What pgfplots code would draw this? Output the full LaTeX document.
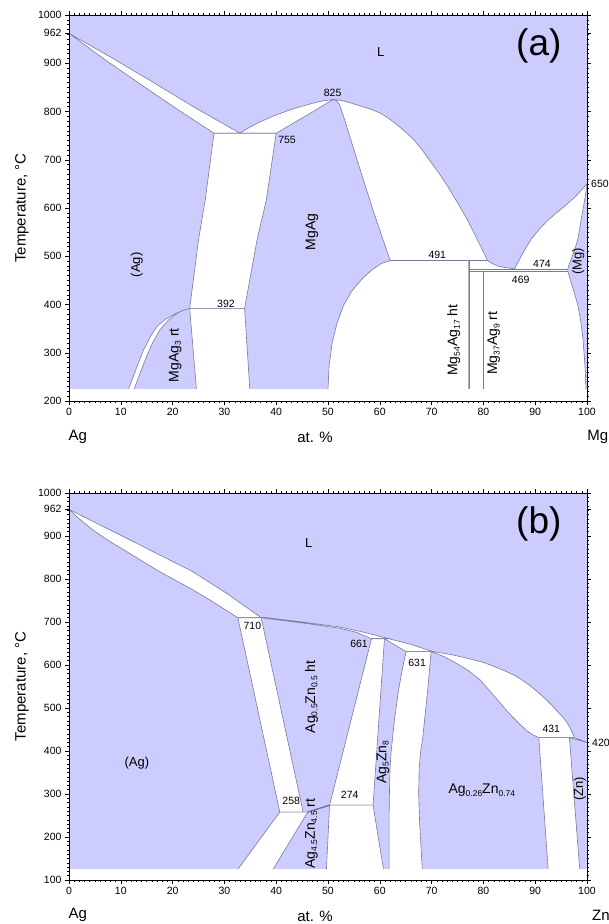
\documentclass[border=0pt]{standalone}
\usepackage{pgfplots}
\pgfplotsset{compat=1.18}
\usepackage{fontspec}
\setmainfont{Liberation Sans}
\definecolor{phase}{RGB}{204,204,255}
\definecolor{bd}{RGB}{120,120,155}
\newcommand\fs[1]{\fontsize{#1}{#1}\selectfont}
\newcommand\sub[1]{\raisebox{-2.4pt}{\fs{8.5}#1}}
\pgfplotsset{
  diag/.style={
    anchor=south west, scale only axis, width=518pt,
    xmin=0, xmax=100, clip=false, axis on top,
    axis line style={black, line width=0.7pt},
    tick align=outside,
    xtick distance=10, minor x tick num=9,
    ytick distance=100, minor y tick num=9,
    major tick length=4pt, minor tick length=2pt,
    every tick/.style={black, line width=0.5pt},
    tick label style={font=\fs{10.5}},
    /pgf/number format/assume math mode=true,
    /pgf/number format/set thousands separator={},
    extra y ticks={962},
    ylabel={Temperature, °C},
    every axis y label/.style={at={(axis description cs:-0.0907,0.5)}, rotate=90, anchor=center, font=\fs{15}},
    xlabel={at. \%},
    every axis x label/.style={at={(axis description cs:0.475,0)}, yshift=-36pt, anchor=center, font=\fs{15}},
  },
  twoph/.style={fill=white, draw=bd, line width=0.6pt},
  bdl/.style={draw=bd, line width=0.6pt},
}
\begin{document}
\begin{tikzpicture}[x=1pt, y=1pt]
\path[use as bounding box] (0,0) rectangle (609,-924);

% ---------------- (a) Ag--Mg ----------------
\begin{axis}[diag, at={(69pt,-401pt)}, height=386pt, ymin=200, ymax=1000]
\addplot[fill=phase, draw=none] coordinates {(0,225)(100,225)(100,1000)(0,1000)} -- cycle;
% L + (Ag)
\addplot[twoph] coordinates {(0,962)(8,913)(16,862)(24,810)(33,755)(28,755)(21,804)(14,855)(7,907)} -- cycle;
% L + MgAg, Ag side
\addplot[twoph] coordinates {(33,755)(34,762)(35,768)(37,779)(40,793)(43.4,806)(47,817)(49,822)(51,825)(47,799)(43.5,777)(40,755)} -- cycle;
% L + MgAg, Mg side
\addplot[twoph] coordinates {(51,825)(52.5,823)(54,819)(55.5,814)(57,809)(58.7,803)(60.2,796)(61.8,785)(63.4,772)(65,757)(66.6,741)(68.2,720)(69.8,696)(71.5,671)(73.1,645)(75,611)(76.9,576)(78.2,548)(79.5,520)(80.8,491)
  (62,491)(58.9,589)(55.6,700)(53,790)(52.2,815)(51.7,822)} -- cycle;
% (Ag) + MgAg
\addplot[twoph] coordinates {(28,755)(40,755)(38.1,617)(36.3,534)(33.9,392)(23.3,392)(25,534)(26.3,617)} -- cycle;
% MgAg3 + MgAg
\addplot[twoph] coordinates {(24.6,225)(23.3,392)(33.9,392)(34.9,225)};
% (Ag) + MgAg3
\addplot[twoph] coordinates {(11.5,225)(12.9,265)(14.4,306)(15.8,335)(17,355)(18.6,369)(20.2,379)(21.8,387)(23.3,392)
  (22,388)(20.8,381)(19.2,368)(17.6,348)(16.2,322)(15,293)(13.8,260)(12.6,225)};
% MgAg + Mg54Ag17
\addplot[twoph] coordinates {(50,225)(50.2,272)(50.8,320)(51.7,360)(53,398)(54.6,428)(56.5,452)(58.5,472)(60.3,485)(62,491)(77.2,491)(77.2,225)};
% Mg-rich side: L + Mg54Ag17, L + (Mg), compounds + (Mg)
\addplot[twoph] coordinates {(77.2,225)(77.2,491)(80.8,491)(81.7,485)(82.7,480)(84,477)(86,474)
  (86.8,490)(87.8,510)(89.2,535)(90.8,556)(92.4,574)(94,589)(95.6,603)(97.8,624)(100,650)
  (99.6,620)(99.2,596)(98.7,565)(98.2,534)(97.5,510)(96.9,493)(96.5,481)(96.3,474)
  (96.3,469)(96.8,450)(97.4,430)(98.2,400)(98.8,365)(99.2,330)(99.5,290)(99.7,255)(99.8,225)};
\addplot[bdl] coordinates {(62,491)(80.8,491)};
\addplot[bdl] coordinates {(77.2,474)(96.3,474)};
\addplot[bdl] coordinates {(77.2,469)(96.3,469)};
\addplot[bdl] coordinates {(77.2,491)(77.2,225)};
\addplot[bdl] coordinates {(80,469)(80,225)};

\node[font=\fs{13}] at (axis cs:60.2,923) {L};
\node[font=\fs{37}] at (axis cs:90.7,935.7) {(a)};
\node[font=\fs{13}, rotate=90] at (axis cs:13.1,482) {(Ag)};
\node[font=\fs{14}, rotate=90] at (axis cs:46.9,550) {MgAg};
\node[font=\fs{14}, rotate=90] at (axis cs:20.5,295) {MgAg\sub{3} rt};
\node[font=\fs{14}, rotate=90] at (axis cs:74.3,326) {Mg\sub{54}Ag\sub{17} ht};
\node[font=\fs{14}, rotate=90] at (axis cs:82.0,320) {Mg\sub{37}Ag\sub{9} rt};
\node[font=\fs{13}, rotate=90] at (axis cs:98.3,489) {(Mg)};
\node[font=\fs{10.5}] at (axis cs:50.9,838) {825};
\node[font=\fs{10.5}] at (axis cs:42.1,741) {755};
\node[font=\fs{10.5}] at (axis cs:30.3,402) {392};
\node[font=\fs{10.5}] at (axis cs:71.1,503) {491};
\node[font=\fs{10.5}] at (axis cs:91.3,484) {474};
\node[font=\fs{10.5}] at (axis cs:87.2,451) {469};
\node[font=\fs{10.5}, anchor=west, inner sep=0pt] at (axis cs:100,650) [xshift=4pt] {650};
\node[font=\fs{15}] at (axis cs:1.7,200) [yshift=-36pt] {Ag};
\node[font=\fs{15}] at (axis cs:102.1,200) [yshift=-36pt] {Mg};
\end{axis}

% ---------------- (b) Ag--Zn ----------------
\begin{axis}[diag, at={(69pt,-880pt)}, height=387pt, ymin=100, ymax=1000]
\addplot[fill=phase, draw=none] coordinates {(0,125)(100,125)(100,1000)(0,1000)} -- cycle;
% L + (Ag)
\addplot[twoph] coordinates {(0,962)(4.6,934)(11.1,895)(17.5,856)(23.9,817)(30.4,767)(37.1,710)
  (32.6,710)(27.1,752)(23.9,775)(17.5,817)(11.1,864)(7.8,888)(4.6,914)(2,940)} -- cycle;
% L + beta
\addplot[twoph] coordinates {(37.1,710)(37.6,711)(45,700)(52,689)(57,676)(61.8,661)(58.4,661)(55.5,676)(52,686)(45,698)} -- cycle;
% L + gamma
\addplot[twoph] coordinates {(60.9,661)(61.8,661)(66,648)(70.3,631)(65.1,631)(63,646)} -- cycle;
% beta + gamma
\addplot[twoph] coordinates {(58.4,661)(60.9,661)(58.7,274)(50.3,274)} -- cycle;
% (Ag) + beta
\addplot[twoph] coordinates {(32.6,710)(37.1,710)(45.2,258)(40.7,258)} -- cycle;
% (Ag) + zeta
\addplot[twoph] coordinates {(32.6,125)(40.7,258)(46.1,258)(39.4,125)};
% zeta + gamma
\addplot[twoph] coordinates {(49.7,125)(50.3,274)(58.7,274)(60.7,125)};
% gamma + epsilon
\addplot[twoph] coordinates {(61.8,125)(61.8,250)(61.9,330)(62,365)(62.2,400)(62.5,435)(62.8,470)(63.2,505)(63.6,540)(64.2,580)(64.6,605)(65.1,631)
  (69.9,631)(69.6,590)(69.3,549)(68.8,490)(68.3,432)(67.9,400)(67.6,360)(67.5,300)(67.7,230)(68.2,125)};
% L + epsilon
\addplot[twoph] coordinates {(69.9,631)(70.3,631)(72.5,627)(75,621)(77.5,614)(80,606)(82,597)(84,587)(86,576)(87.5,565)(89,552)(90.5,537)(92,521)(93,509)(94,496)(95,483)(96,469)(96.8,452)(97.6,431)
  (90.7,431)(89.5,438)(88.3,448)(86.8,465)(85,487)(83.5,508)(82,529)(80.5,550)(79.3,566)(77,588)(74.8,604)(72.3,620)} -- cycle;
% L + (Zn)
\addplot[twoph] coordinates {(96.6,431)(97.6,431)(100,420)} -- cycle;
% epsilon + (Zn)
\addplot[twoph] coordinates {(92.5,125)(90.7,431)(96.6,431)(98.6,125)};
% beta / zeta boundary
\addplot[draw=bd!90!black, line width=1.3pt] coordinates {(46.1,258)(50.3,274)};

\node[font=\fs{13}] at (axis cs:46.3,883) {L};
\node[font=\fs{37}] at (axis cs:90.7,927.7) {(b)};
\node[font=\fs{13}] at (axis cs:13.1,371) {(Ag)};
\node[font=\fs{14}, rotate=90] at (axis cs:46.8,526) {Ag\sub{0.5}Zn\sub{0.5} ht};
\node[font=\fs{14}, rotate=90] at (axis cs:60.6,374) {Ag\sub{5}Zn\sub{8}};
\node[font=\fs{14}] at (axis cs:79.7,308) {Ag\sub{0.26}Zn\sub{0.74}};
\node[font=\fs{13}, rotate=90] at (axis cs:98.6,312) {(Zn)};
\node[font=\fs{14}, rotate=90] at (axis cs:46.8,208) {Ag\sub{4.5}Zn\sub{4.5} rt};
\node[font=\fs{10.5}] at (axis cs:35.4,691) {710};
\node[font=\fs{10.5}] at (axis cs:56.0,650) {661};
\node[font=\fs{10.5}] at (axis cs:67.2,605) {631};
\node[font=\fs{10.5}] at (axis cs:93.1,452) {431};
\node[font=\fs{10.5}] at (axis cs:42.9,283) {258};
\node[font=\fs{10.5}] at (axis cs:54.2,297) {274};
\node[font=\fs{10.5}, anchor=west, inner sep=0pt] at (axis cs:100,420) [xshift=5pt] {420};
\node[font=\fs{15}] at (axis cs:1.7,100) [yshift=-35pt] {Ag};
\node[font=\fs{15}] at (axis cs:102.7,100) [yshift=-35pt] {Zn};
\end{axis}
\end{tikzpicture}
\end{document}
